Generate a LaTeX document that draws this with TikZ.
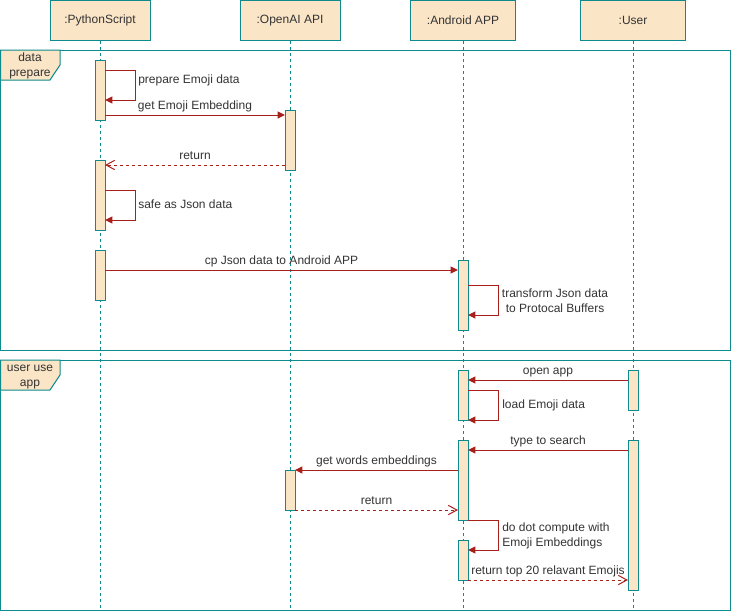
\documentclass[tikz,border=0pt]{standalone}
\usepackage{fontspec}
\setmainfont{Liberation Sans}
\usetikzlibrary{arrows.meta}
\definecolor{lane}{HTML}{0F8B8D}
\definecolor{sand}{HTML}{FAE5C7}
\definecolor{msgred}{HTML}{A8201A}
\definecolor{ink}{HTML}{333333}
\tikzset{
  part/.style={draw=lane, fill=sand, line width=.75pt, minimum height=30pt,
    inner sep=0, text=ink, font=\fontsize{9}{11.25}\selectfont},
  bar/.style={draw=lane, fill=sand, line width=.75pt, minimum width=7.5pt,
    minimum height=#1*.75pt, inner sep=0, outer sep=0},
  life/.style={draw=lane, line width=.75pt, dash pattern=on 2.25pt off 2.25pt},
  frm/.style={draw=lane, line width=.75pt},
  msg/.style={draw=msgred, line width=.75pt, -{Triangle[length=5.5pt, width=5.25pt]}},
  ret/.style={draw=msgred, line width=.75pt, dash pattern=on 2.25pt off 2.25pt,
    -{Straight Barb[length=6.5pt, width=7pt]}},
  lbl/.style={text=ink, inner sep=0, font=\fontsize{9}{11.25}\selectfont},
  over/.style={lbl, midway, anchor=base, yshift=4.1pt},
}

\begin{document}
\begin{tikzpicture}[x=.75pt, y=-.75pt]
  \useasboundingbox (0,0) rectangle (731,611);
  \coordinate (bot) at (0,610);

  \node[part, minimum width=75pt] at (100,20.5) (py) {:PythonScript};
  \node[part, minimum width=75pt] at (290,20.5) (oa) {:OpenAI API};
  \node[part, minimum width=78.75pt] at (463,20.5) (an) {:Android APP};
  \node[part, minimum width=78.75pt] at (633,20.5) (us) {:User};

  \foreach \p in {py, oa, an, us}
    \draw[life] (\p) -- (\p |- bot);

  \draw[frm] (.5,50) rectangle (730,350);
  \draw[frm, fill=sand] (.5,50) -- (60,50) -- (60,65) -- (50,80) -- (.5,80) -- cycle;
  \node[lbl, align=center] at (30,66) (prepl) {data\\prepare};

  \draw[frm] (.5,360) rectangle (730,610);
  \draw[frm, fill=sand] (.5,360) -- (60,360) -- (60,375) -- (50,390) -- (.5,390) -- cycle;
  \node[lbl, align=center] at (30,377) (usel) {user use\\app};

  \node[bar=60] at (100,90) (py1) {};
  \node[bar=70] at (100,195) (py2) {};
  \node[bar=50] at (100,275) (py3) {};
  \node[bar=60] at (290,140) (oa1) {};
  \node[bar=40] at (290,490) (oa2) {};
  \node[bar=70] at (463,295) (an1) {};
  \node[bar=50] at (463,395) (an2) {};
  \node[bar=80] at (463,480) (an3) {};
  \node[bar=40] at (463,560) (an4) {};
  \node[bar=40] at (633,390) (us1) {};
  \node[bar=150] at (633,515) (us2) {};

  \draw[msg] (py1.east |- 0,70) -- ++(30,0) |- (py1.east |- 0,100);
  \node[lbl, anchor=base west] at (138,83) (m1) {prepare Emoji data};
  \draw[msg] (py1.east |- 0,115) -- (oa1.west |- 0,115)
    node[over] (m2) {get Emoji Embedding};
  \draw[ret] (oa1.west |- 0,165) -- (py2.east |- 0,165) node[over] (m3) {return};
  \draw[msg] (py2.east |- 0,190) -- ++(30,0) |- (py2.east |- 0,220);
  \node[lbl, anchor=base west] at (138,208) (m4) {safe as Json data};
  \draw[msg] (py3.east |- 0,270) -- (an1.west |- 0,270)
    node[over] (m5) {cp Json data to Android APP};
  \draw[msg] (an1.east |- 0,285) -- ++(30,0) |- (an1.east |- 0,315);
  \node[lbl, align=center] at (555,300.5) (m6) {transform Json data\\to Protocal Buffers};

  \draw[msg] (us1.west |- 0,380) -- (an2.east |- 0,380) node[over] (m7) {open app};
  \draw[msg] (an2.east |- 0,390) -- ++(30,0) |- (an2.east |- 0,420);
  \node[lbl, anchor=base west] at (502,408.5) (m8) {load Emoji data};
  \draw[msg] (us2.west |- 0,450) -- (an3.east |- 0,450) node[over] (m9) {type to search};
  \draw[msg] (an3.west |- 0,470) -- (oa2.east |- 0,470)
    node[over] (m10) {get words embeddings};
  \draw[ret] (oa2.east |- 0,510) -- (an3.west |- 0,510) node[over] (m11) {return};
  \draw[msg] (an3.east |- 0,520) -- ++(30,0) |- (an4.east |- 0,550);
  \node[lbl, align=left, anchor=west] at (502,535.5) (m12)
    {do dot compute with\\Emoji Embeddings};
  \draw[ret] (an4.east |- 0,580) -- (us2.west |- 0,580)
    node[over] (m13) {return top 20 relavant Emojis};
\end{tikzpicture}
\end{document}
